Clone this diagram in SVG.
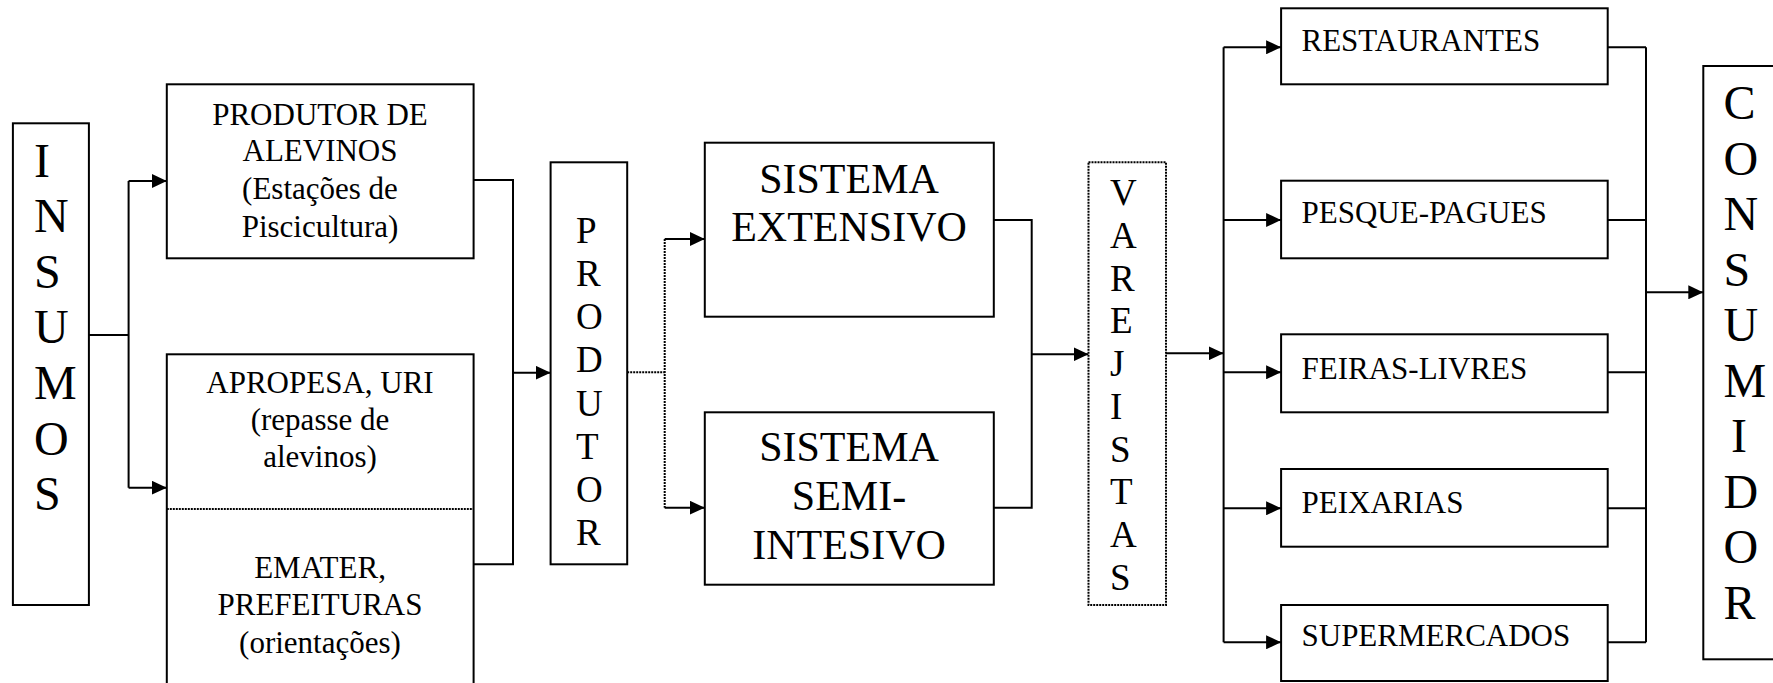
<svg xmlns="http://www.w3.org/2000/svg" width="1773" height="683" viewBox="0 0 1773 683">
<defs>
<marker id="ah" markerUnits="userSpaceOnUse" markerWidth="15" markerHeight="14" refX="15" refY="7" orient="auto">
<path d="M0,0 L15,7 L0,14 z" fill="#000"/>
</marker>
<style>
.box{fill:#fff;stroke:#000;stroke-width:2}
.dbox{fill:#fff;stroke:#000;stroke-width:2;stroke-dasharray:2 1}
.ln{fill:none;stroke:#000;stroke-width:2}
.dl{fill:none;stroke:#000;stroke-width:2;stroke-dasharray:2 1}
.t{font-family:"Liberation Serif","Times New Roman",serif;fill:#000}
.c{text-anchor:middle}
.f31{font-size:31px}
.f42{font-size:42px}
.f37{font-size:37px}
.f48{font-size:48px}
</style>
</defs>
<rect width="1773" height="683" fill="#fff"/>

<g id="connectors">
<path class="ln" d="M89,335 H128.6 M128.6,181 V487.7"/>
<path class="ln" d="M128.6,181 H166.8" marker-end="url(#ah)"/>
<path class="ln" d="M128.6,487.7 H166.8" marker-end="url(#ah)"/>
<path class="ln" d="M473.6,180 H513 V564.3 H473.6"/>
<path class="ln" d="M513,372.7 H550.6" marker-end="url(#ah)"/>
<path class="dl" d="M627.2,372.3 H664.7 M664.7,239 V507.7"/>
<path class="ln" d="M664.7,239 H704.8" marker-end="url(#ah)"/>
<path class="ln" d="M664.7,507.7 H704.8" marker-end="url(#ah)"/>
<path class="ln" d="M993.8,220 H1031.7 V507.7 H993.8"/>
<path class="ln" d="M1031.7,354.3 H1088.5" marker-end="url(#ah)"/>
<path class="ln" d="M1166,353.3 H1223.6" marker-end="url(#ah)"/>
<path class="ln" d="M1223.6,47.3 V642.3"/>
<path class="ln" d="M1223.6,47.3 H1281.1" marker-end="url(#ah)"/>
<path class="ln" d="M1223.6,220 H1281.1" marker-end="url(#ah)"/>
<path class="ln" d="M1223.6,372.3 H1281.1" marker-end="url(#ah)"/>
<path class="ln" d="M1223.6,508.3 H1281.1" marker-end="url(#ah)"/>
<path class="ln" d="M1223.6,642.3 H1281.1" marker-end="url(#ah)"/>
<path class="ln" d="M1607.7,47.3 H1646 M1607.7,220 H1646 M1607.7,372.3 H1646 M1607.7,508.3 H1646 M1607.7,642.3 H1646 M1646,47.3 V642.3"/>
<path class="ln" d="M1646,292.3 H1703.3" marker-end="url(#ah)"/>
</g>

<g id="insumos">
<rect class="box" x="12.9" y="123.3" width="76" height="481.7"/>
<g class="t f48">
<text x="34" y="176.7">I</text>
<text x="34" y="232.3">N</text>
<text x="34" y="287.8">S</text>
<text x="34" y="343.4">U</text>
<text x="34" y="398.9">M</text>
<text x="34" y="454.5">O</text>
<text x="34" y="510">S</text>
</g>
</g>

<g id="produtor-alevinos">
<rect class="box" x="166.8" y="84.3" width="306.8" height="174"/>
<g class="t f31 c">
<text x="320" y="125">PRODUTOR DE</text>
<text x="320" y="161">ALEVINOS</text>
<text x="320" y="198.5">(Estações de</text>
<text x="320" y="236.5">Piscicultura)</text>
</g>
</g>

<g id="apropesa-emater">
<rect class="box" x="166.8" y="354.3" width="306.8" height="340"/>
<line class="dl" x1="166.8" y1="509" x2="473.6" y2="509"/>
<g class="t f31 c">
<text x="320" y="392.7">APROPESA, URI</text>
<text x="320" y="430">(repasse de</text>
<text x="320" y="466.5">alevinos)</text>
<text x="320" y="577.7">EMATER,</text>
<text x="320" y="615">PREFEITURAS</text>
<text x="320" y="653.3">(orientações)</text>
</g>
</g>

<g id="produtor">
<rect class="box" x="550.6" y="162.3" width="76.6" height="402"/>
<g class="t f37">
<text x="576" y="242.7">P</text>
<text x="576" y="285.9">R</text>
<text x="576" y="329.1">O</text>
<text x="576" y="372.3">D</text>
<text x="576" y="415.5">U</text>
<text x="576" y="458.7">T</text>
<text x="576" y="501.9">O</text>
<text x="576" y="545.1">R</text>
</g>
</g>

<g id="sistema-extensivo">
<rect class="box" x="704.8" y="142.7" width="289" height="174"/>
<g class="t f42 c">
<text x="849" y="193.3">SISTEMA</text>
<text x="849" y="241">EXTENSIVO</text>
</g>
</g>

<g id="sistema-semi-intensivo">
<rect class="box" x="704.8" y="412.3" width="289" height="172.4"/>
<g class="t f42 c">
<text x="849" y="461">SISTEMA</text>
<text x="849" y="510">SEMI-</text>
<text x="849" y="559">INTESIVO</text>
</g>
</g>

<g id="varejistas">
<rect class="dbox" x="1088.5" y="162.3" width="77.5" height="442.7"/>
<g class="t f37">
<text x="1110" y="205">V</text>
<text x="1110" y="247.8">A</text>
<text x="1110" y="290.6">R</text>
<text x="1110" y="333.3">E</text>
<text x="1110" y="376.1">J</text>
<text x="1110" y="418.9">I</text>
<text x="1110" y="461.7">S</text>
<text x="1110" y="504.4">T</text>
<text x="1110" y="547.2">A</text>
<text x="1110" y="590">S</text>
</g>
</g>

<g id="restaurantes">
<rect class="box" x="1281.1" y="8.3" width="326.6" height="76"/>
<text class="t f31" x="1301.5" y="50.7">RESTAURANTES</text>
</g>
<g id="pesque-pagues">
<rect class="box" x="1281.1" y="180.7" width="326.6" height="77.6"/>
<text class="t f31" x="1301.5" y="222.7">PESQUE-PAGUES</text>
</g>
<g id="feiras-livres">
<rect class="box" x="1281.1" y="334.3" width="326.6" height="78"/>
<text class="t f31" x="1301.5" y="379.3">FEIRAS-LIVRES</text>
</g>
<g id="peixarias">
<rect class="box" x="1281.1" y="469" width="326.6" height="77.7"/>
<text class="t f31" x="1301.5" y="512.7">PEIXARIAS</text>
</g>
<g id="supermercados">
<rect class="box" x="1281.1" y="605" width="326.6" height="76"/>
<text class="t f31" x="1301.5" y="645.7">SUPERMERCADOS</text>
</g>

<g id="consumidor">
<rect class="box" x="1703.3" y="66" width="100" height="593.3"/>
<g class="t f48">
<text x="1723.5" y="119">C</text>
<text x="1723.5" y="174.5">O</text>
<text x="1723.5" y="230">N</text>
<text x="1723.5" y="285.5">S</text>
<text x="1723.5" y="341">U</text>
<text x="1723.5" y="396.5">M</text>
<text x="1731" y="452">I</text>
<text x="1723.5" y="507.5">D</text>
<text x="1723.5" y="563">O</text>
<text x="1723.5" y="618.5">R</text>
</g>
</g>
</svg>
